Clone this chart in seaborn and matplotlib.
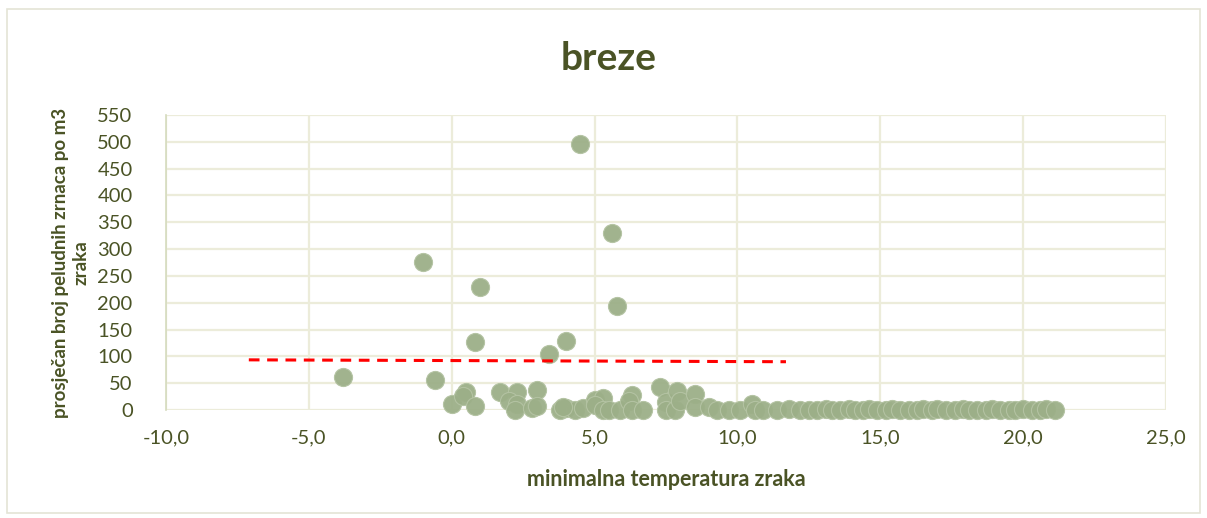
#!/usr/bin/env python3
"""
Scatter of birch pollen counts vs. minimum air temperature
"""

import matplotlib
matplotlib.use('Agg')
import matplotlib.pyplot as plt
from matplotlib.patches import Rectangle
import pandas as pd
import seaborn as sns

# --------------------------------------------------
# data
temp_min = [
    -3.8, -0.6, 0.0, 0.5, 0.4, 0.8, -1.0, 1.0, 0.8, 1.7, 2.3, 2.0, 2.3, 2.2,
    3.0, 2.8, 3.0, 3.4, 4.0, 4.5, 3.8, 4.0, 4.3, 3.9, 4.6, 5.0, 5.3, 5.0, 5.3,
    5.6, 5.5, 5.8, 5.9, 6.3, 6.2, 6.3, 6.7, 7.3, 7.5, 7.5, 7.8, 7.9, 8.0,
    8.5, 8.5, 9.0, 9.3, 9.7, 10.1, 10.5, 10.6, 10.9, 11.4, 11.8, 12.2, 12.5,
    12.8, 13.1, 13.3, 13.6, 13.9, 14.1, 14.4, 14.6, 14.9, 15.2, 15.4, 15.7,
    16.0, 16.3, 16.5, 16.8, 17.0, 17.3, 17.6, 17.9, 18.1, 18.4, 18.7, 18.9,
    19.2, 19.5, 19.7, 20.0, 20.3, 20.6, 20.8, 21.1,
]
pollen = [
    62, 55, 11, 34, 26, 7, 276, 230, 127, 33, 33, 16, 11, 0,
    37, 3, 7, 105, 129, 496, 0, 3, 0, 6, 3, 19, 22, 9, 0,
    330, 0, 194, 0, 28, 16, 0, 0, 42, 14, 0, 0, 36, 16,
    30, 6, 6, 0, 0, 0, 12, 0, 0, 0, 2, 0, 0,
    0, 1, 0, 0, 2, 0, 0, 1, 0, 0, 2, 0,
    0, 0, 1, 0, 2, 0, 0, 1, 0, 0, 0, 1,
    0, 0, 0, 2, 0, 0, 1, 0,
]

# linear trend line ends as drawn in the reference
trend_x = [-7.1, 11.7]
trend_y = [93.5, 90.0]

x_ticks = [-10, -5, 0, 5, 10, 15, 20, 25]
y_ticks = list(range(0, 551, 50))

TEXT = '#4A5325'
GRID = '#ECECDA'
DOT = '#9CAF88'


# --------------------------------------------------
def main():
    sns.set_theme(style='white')
    plt.rcParams['font.family'] = ['Lato', 'DejaVu Sans']

    df = pd.DataFrame({'t': temp_min, 'p': pollen})
    trend = pd.DataFrame({'t': trend_x, 'p': trend_y})

    fig = plt.figure(figsize=(12.07, 5.18), dpi=100)
    ax = fig.add_axes([0.1375, 0.2085, 0.8285, 0.5695])

    sns.scatterplot(data=df, x='t', y='p', ax=ax, s=170, color=DOT,
                    edgecolor='#B4C3A3', linewidth=0.8, alpha=0.95,
                    zorder=3, clip_on=False)
    sns.lineplot(data=trend, x='t', y='p', ax=ax, color='#FF0000',
                 linewidth=2.2, zorder=4)
    ax.lines[-1].set_linestyle((0, (3.5, 2.5)))

    ax.set_xlim(-10, 25)
    ax.set_ylim(0, 550)
    ax.set_xticks(x_ticks)
    ax.set_xticklabels(['{:.1f}'.format(v).replace('.', ',')
                        for v in x_ticks])
    ax.set_yticks(y_ticks)
    ax.tick_params(axis='both', labelsize=14.5, colors=TEXT, length=0)
    ax.tick_params(axis='x', pad=14)
    ax.tick_params(axis='y', pad=24)

    ax.grid(True, color=GRID, linewidth=1.6, zorder=0)
    ax.set_axisbelow(True)
    for side in ['top', 'right', 'bottom']:
        ax.spines[side].set_visible(False)
    ax.spines['left'].set_color('#D5DBBE')
    ax.spines['left'].set_linewidth(1.2)

    ax.set_xlabel('minimalna temperatura zraka', fontsize=15.5,
                  fontweight='bold', color=TEXT, labelpad=16)
    ax.set_ylabel('prosječan broj peludnih zrnaca po m3\nzraka',
                  fontsize=13.5, fontweight='bold', color=TEXT,
                  labelpad=6, linespacing=1.25)
    fig.text(0.504, 0.887, 'breze', ha='center', va='center',
             fontsize=28, fontweight='bold', color=TEXT)

    fig.patches.append(Rectangle((0.006, 0.01), 0.988, 0.972,
                                 transform=fig.transFigure, fill=False,
                                 edgecolor='#E4E4D6', linewidth=1.2))

    fig.savefig('out.png', dpi=100)


# --------------------------------------------------
if __name__ == '__main__':
    main()
